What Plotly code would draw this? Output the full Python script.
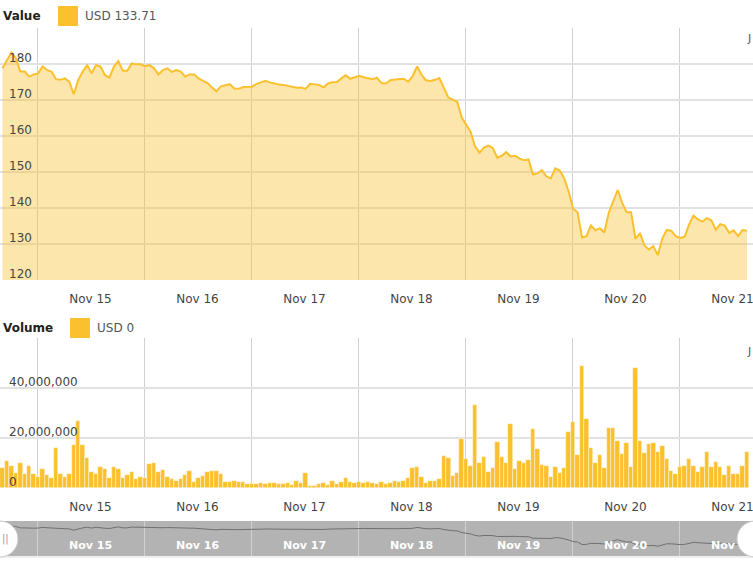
import pandas as pd
import plotly.graph_objects as go

# ── Palette ───────────────────────────────────────────────────────────────────
ORANGE = "#FBC02D"
FILL   = "rgba(251,192,45,0.4)"
TEXT   = "#444444"
NAV_BG = "#b3b3b3"

W, H = 753, 562

# ── Data (hourly) ─────────────────────────────────────────────────────────────
start = "2021-11-14 16:15"

value = [
    178.8, 181.0, 183.2, 181.6, 177.9, 177.9, 176.5, 177.1, 177.4, 179.3,
    178.3, 177.9, 175.8, 175.6, 176.0, 175.1, 171.6, 175.6, 177.9, 179.7,
    177.4, 179.7, 179.3, 176.9, 176.2, 179.3, 180.8, 178.1, 178.1, 180.2,
    179.9, 179.9, 179.4, 179.7, 178.8, 177.1, 178.3, 178.8, 177.8, 178.3,
    177.9, 176.5, 177.1, 177.1, 176.0, 175.3, 174.7, 173.5, 172.4, 173.8,
    174.2, 174.4, 173.2, 173.1, 173.6, 173.6, 173.7, 174.5, 175.0, 175.3,
    174.9, 174.5, 174.3, 174.2, 174.0, 173.8, 173.4, 173.5, 173.1, 174.5,
    174.4, 174.2, 173.5, 174.6, 174.9, 175.0, 176.0, 176.9, 175.9, 176.3,
    176.7, 176.3, 176.1, 175.8, 176.2, 174.7, 174.6, 175.5, 175.7, 175.8,
    175.9, 175.1, 176.6, 179.3, 177.0, 175.5, 175.3, 175.6, 176.1, 173.4,
    170.7, 170.1, 169.5, 165.2, 163.2, 161.2, 157.1, 155.3, 156.8, 157.3,
    156.6, 154.0, 154.5, 155.5, 154.3, 154.5, 153.7, 153.3, 153.5, 149.3,
    149.6, 150.5, 148.8, 148.2, 151.0, 150.4, 148.3, 144.5, 139.8, 138.8,
    131.8, 132.2, 135.2, 133.8, 134.4, 133.2, 138.7, 141.8, 145.0, 141.5,
    138.8, 138.8, 131.4, 133.0, 129.6, 128.5, 129.4, 126.9, 131.5, 133.9,
    133.7, 132.2, 131.7, 132.0, 135.4, 137.9, 136.8, 136.2, 137.2, 136.6,
    134.0, 135.5, 135.1, 133.1, 133.8, 132.2, 133.9, 133.71,
]

volume_m = [
    7.9, 10.7, 8.8, 5.9, 10.1, 5.6, 8.8, 5.6, 4.3, 7.5,
    5.2, 3.9, 15.9, 5.6, 4.5, 5.6, 17.2, 26.8, 17.2, 11.9,
    6.5, 5.6, 8.3, 7.5, 3.9, 8.3, 7.5, 3.9, 5.2, 6.5,
    3.5, 4.3, 3.9, 9.6, 10.1, 6.5, 7.2, 4.3, 3.5, 2.9,
    3.5, 5.2, 7.0, 2.3, 4.1, 4.9, 6.4, 6.9, 6.9, 5.6,
    2.3, 2.5, 2.9, 2.5, 2.5, 1.6, 1.6, 1.6, 2.1, 1.6,
    2.1, 2.1, 1.6, 1.6, 2.1, 1.2, 2.9, 1.9, 5.9, 1.0,
    1.0, 1.6, 2.1, 1.2, 2.9, 1.6, 2.5, 3.9, 2.5, 2.1,
    2.3, 1.9, 2.5, 2.0, 1.6, 2.5, 1.6, 1.9, 2.9, 2.5,
    2.9, 3.9, 7.9, 8.3, 4.3, 2.1, 2.9, 2.9, 3.5, 12.9,
    11.9, 4.8, 6.1, 19.6, 11.5, 8.8, 33.2, 10.1, 12.3, 6.5,
    7.9, 18.3, 12.3, 10.1, 25.5, 7.5, 10.9, 10.1, 11.2, 23.6,
    15.5, 9.2, 8.8, 4.3, 8.3, 5.9, 7.9, 22.3, 26.3, 13.2,
    48.8, 27.6, 15.9, 10.1, 13.2, 7.9, 23.9, 23.9, 18.9, 13.6,
    18.1, 8.3, 47.9, 18.9, 14.1, 17.6, 18.1, 14.5, 16.8, 11.5,
    6.9, 5.5, 8.3, 8.8, 11.5, 8.8, 6.5, 8.3, 14.5, 8.5,
    10.5, 8.3, 5.2, 8.8, 5.5, 5.5, 8.8, 14.5,
]

times = pd.date_range(start, periods=len(value), freq="h")
volume = [v * 1e6 for v in volume_m]

value_ticks = [120, 130, 140, 150, 160, 170, 180, 190]
value_text = ["120", "130", "140", "150", "160", "170", "180", ""]
volume_ticks = [0, 20e6, 40e6, 60e6]
volume_text = ["0", "20,000,000", "40,000,000", ""]


def fx(px):
    return px / W


def fy(py):
    return 1 - py / H


# day grid: Nov 15 00:00 sits at x=37px, 107px per day
day0 = pd.Timestamp("2021-11-15")
left = day0 - pd.Timedelta(days=37 / 107)
right = left + pd.Timedelta(days=W / 107)
x_range = [str(left), str(right)]

xcommon = dict(
    type="date", range=x_range, tick0="2021-11-15", dtick=86400000,
    tickformat="%b %d", ticklabelmode="period", ticks="",
    ticklabeloverflow="allow",
    showgrid=True, gridcolor="#d0d0d0", gridwidth=1,
    zeroline=False, showline=False, fixedrange=True,
)

ycommon = dict(
    ticklabelposition="inside", ticklabelshift=-6, ticklabelstandoff=6,
    ticklabeloverflow="allow",
    ticks="", showgrid=True, gridcolor="#e2e2e2", gridwidth=1.5,
    zeroline=False, showline=False, fixedrange=True,
    tickfont=dict(size=12, color=TEXT),
)

fig = go.Figure()

fig.add_trace(go.Scatter(
    x=times, y=value, mode="lines", fill="tozeroy",
    line=dict(color=ORANGE, width=2), fillcolor=FILL,
    xaxis="x", yaxis="y", hoverinfo="skip",
))

fig.add_trace(go.Bar(
    x=times, y=volume, width=3600000,
    marker=dict(color=ORANGE, line=dict(color="rgba(255,255,255,0.7)", width=0.6)),
    xaxis="x2", yaxis="y2", hoverinfo="skip",
))

fig.add_trace(go.Scatter(
    x=times, y=value, mode="lines",
    line=dict(color="#707070", width=1),
    xaxis="x3", yaxis="y3", hoverinfo="skip",
))

fig.update_layout(
    width=W, height=H,
    margin=dict(l=0, r=0, t=0, b=0),
    plot_bgcolor="rgba(0,0,0,0)", paper_bgcolor="white",
    font=dict(family="DejaVu Sans", size=12, color=TEXT),
    showlegend=False, bargap=0,
    xaxis=dict(**xcommon, domain=[0, 1], anchor="y",
               ticklabelstandoff=10, tickfont=dict(size=12, color=TEXT)),
    xaxis2=dict(**xcommon, domain=[0, 1], anchor="y2",
                ticklabelstandoff=10, tickfont=dict(size=12, color=TEXT)),
    xaxis3=dict(**xcommon, domain=[0, 1], anchor="y3",
                ticklabelposition="inside", ticklabelstandoff=2,
                tickfont=dict(size=11, color="white", weight="bold")),
    yaxis=dict(**ycommon, domain=[fy(280), fy(28)], range=[120, 190],
               tickvals=value_ticks, ticktext=value_text),
    yaxis2=dict(**ycommon, domain=[fy(488), fy(338)], range=[0, 60e6],
                tickvals=volume_ticks, ticktext=volume_text),
    yaxis3=dict(domain=[fy(556), fy(521)], range=[100, 197],
                showticklabels=False, showgrid=False, zeroline=False,
                showline=False, fixedrange=True),
)

# navigator background + bottom rule
fig.add_shape(type="rect", xref="paper", yref="paper", layer="below",
              x0=0, x1=1, y0=fy(556), y1=fy(521),
              fillcolor=NAV_BG, line=dict(width=0))
fig.add_shape(type="line", xref="paper", yref="paper",
              x0=0, x1=1, y0=fy(557), y1=fy(557),
              line=dict(color="#dddddd", width=1))

# navigator handles
fig.add_shape(type="circle", xref="paper", yref="paper",
              x0=fx(-18), x1=fx(18), y0=fy(557), y1=fy(521),
              fillcolor="white", line=dict(color="#c8c8c8", width=1))
fig.add_shape(type="circle", xref="paper", yref="paper",
              x0=fx(737), x1=fx(773), y0=fy(557), y1=fy(521),
              fillcolor="white", line=dict(color="#c8c8c8", width=1))
fig.add_annotation(x=fx(0), y=fy(539), xref="paper", yref="paper",
                   text="||", showarrow=False, xanchor="left", yanchor="middle",
                   font=dict(size=10, color="#999999"))

# legends
for (label, amount, ty, sx0) in [("Value", "USD 133.71", 16, 58), ("Volume", "USD 0", 328, 70)]:
    fig.add_annotation(x=fx(1), y=fy(ty), xref="paper", yref="paper",
                       text=f"<b>{label}</b>", showarrow=False,
                       xanchor="left", yanchor="middle",
                       font=dict(size=12, color="#222222"))
    fig.add_shape(type="rect", xref="paper", yref="paper",
                  x0=fx(sx0), x1=fx(sx0 + 20), y0=fy(ty + 10), y1=fy(ty - 10),
                  fillcolor=ORANGE, line=dict(width=0))
    fig.add_annotation(x=fx(sx0 + 25), y=fy(ty), xref="paper", yref="paper",
                       text=amount, showarrow=False,
                       xanchor="left", yanchor="middle",
                       font=dict(size=12, color="#555555"))

# small glyph at the top-right corner of each panel
for ty in [38, 351]:
    fig.add_annotation(x=fx(753), y=fy(ty), xref="paper", yref="paper",
                       text="J", showarrow=False,
                       xanchor="right", yanchor="middle",
                       font=dict(size=11, color="#555555"))

fig.write_html("out.html", config={"displayModeBar": False},
               post_script="document.body.style.margin='0';")
